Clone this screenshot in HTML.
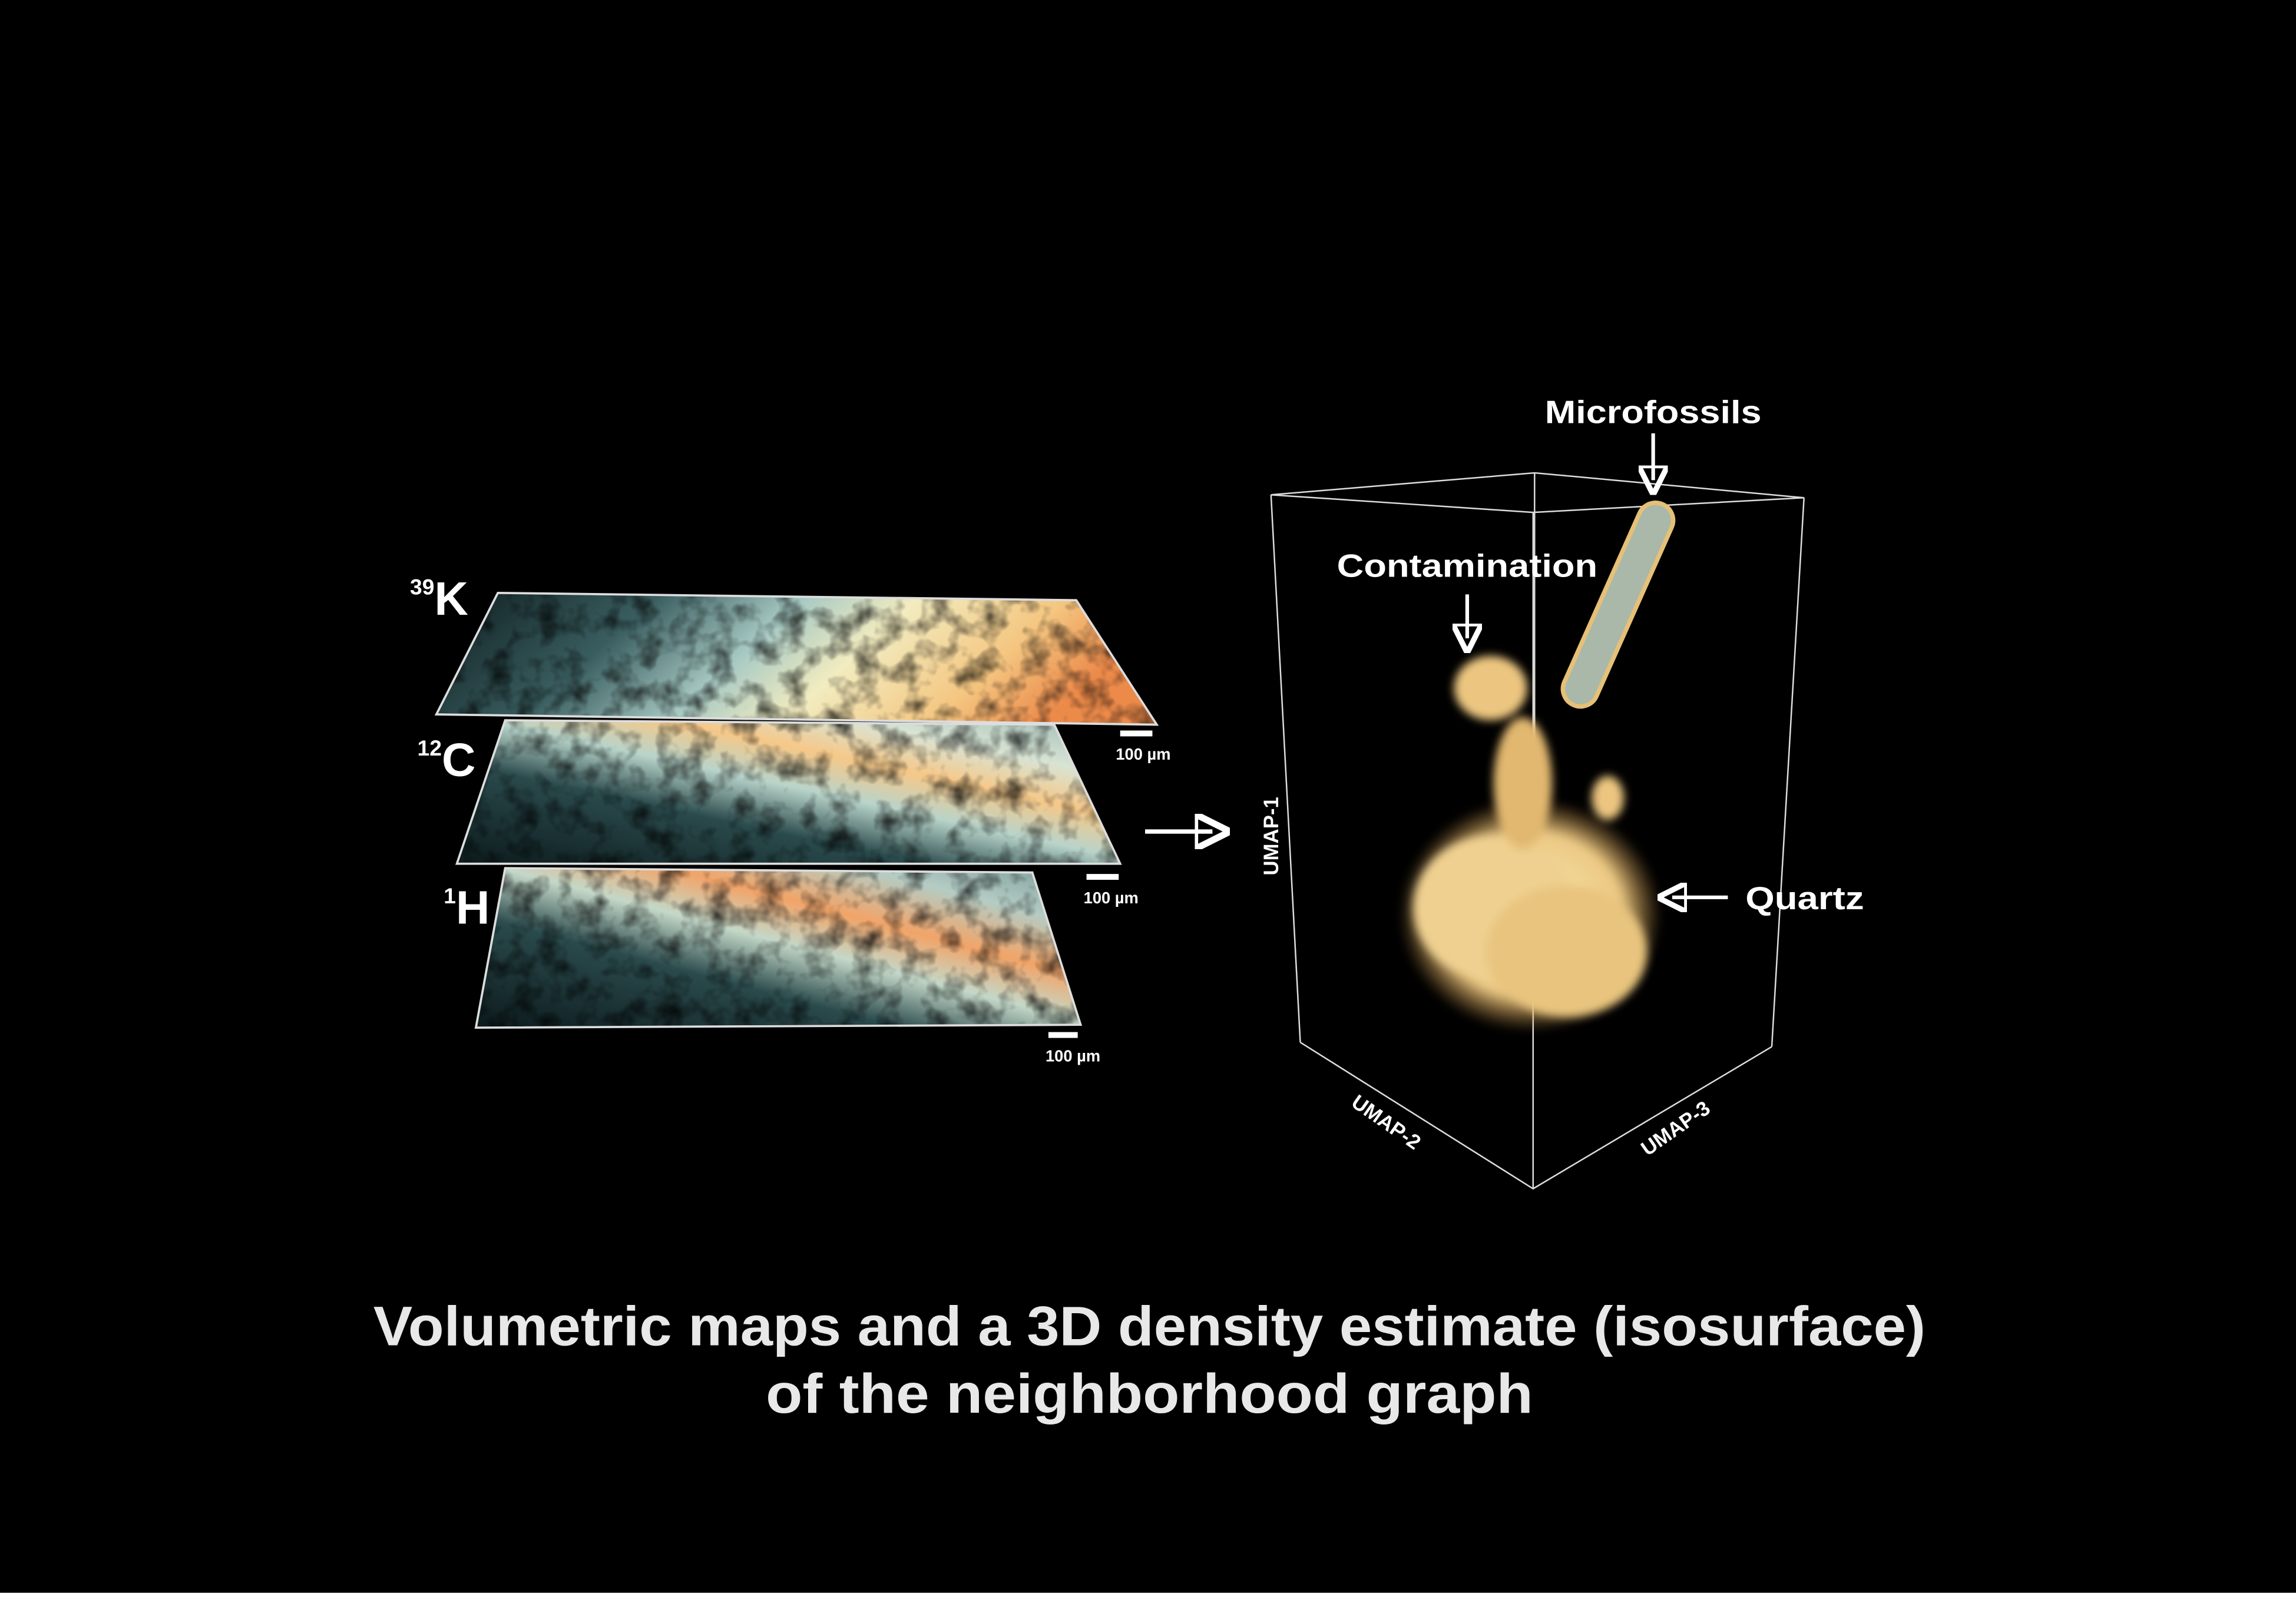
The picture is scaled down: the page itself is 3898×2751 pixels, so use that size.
<!DOCTYPE html>
<html><head><meta charset="utf-8"><style>
html,body{margin:0;padding:0;background:#000;}
svg{display:block;}
text{font-family:"Liberation Sans","DejaVu Sans",sans-serif;}
</style></head><body>
<svg width="3898" height="2751" viewBox="0 0 1568 1106.6" preserveAspectRatio="none" xmlns="http://www.w3.org/2000/svg">
<defs>
<linearGradient id="gK" x1="0" y1="0" x2="1" y2="0.2">
<stop offset="0" stop-color="#0c1a1c"/><stop offset="0.3" stop-color="#3a5e60"/><stop offset="0.5" stop-color="#a8cac4"/><stop offset="0.65" stop-color="#f2ecc0"/><stop offset="0.85" stop-color="#f4c680"/><stop offset="1" stop-color="#ec8a4a"/></linearGradient>
<linearGradient id="gC" x1="0" y1="1" x2="1" y2="0">
<stop offset="0" stop-color="#0c1a1c"/><stop offset="0.35" stop-color="#2a4a4c"/><stop offset="0.52" stop-color="#b8d4ca"/><stop offset="0.66" stop-color="#f6c888"/><stop offset="0.8" stop-color="#d8e4d4"/><stop offset="1" stop-color="#9ab8b4"/></linearGradient>
<linearGradient id="gH" x1="0" y1="1" x2="1" y2="0">
<stop offset="0" stop-color="#0c1a1c"/><stop offset="0.35" stop-color="#2a4a4c"/><stop offset="0.52" stop-color="#c4d8c8"/><stop offset="0.66" stop-color="#f2a468"/><stop offset="0.82" stop-color="#b4ccc4"/><stop offset="1" stop-color="#7a9a98"/></linearGradient>
<filter id="noise" x="0" y="0" width="100%" height="100%">
<feTurbulence type="fractalNoise" baseFrequency="0.06" numOctaves="3" seed="4"/>
<feColorMatrix type="matrix" values="0 0 0 0 0  0 0 0 0 0  0 0 0 0 0  0 0 0 -1.6 0.9"/>
</filter>
<radialGradient id="blob" cx="0.5" cy="0.5" r="0.5">
<stop offset="0" stop-color="#fbe8b0"/><stop offset="0.7" stop-color="#ecc984"/><stop offset="1" stop-color="#c08a40" stop-opacity="0"/></radialGradient>
<filter id="blur"><feGaussianBlur stdDeviation="3"/></filter>
<clipPath id="cK"><polygon points="340,405 735,410 790,495 298,488"/></clipPath>
<clipPath id="cC"><polygon points="345,492 720,495 765,590 312,590"/></clipPath>
<clipPath id="cH"><polygon points="345,593 705,596 738,700 325,702"/></clipPath>
<marker id="ah" markerWidth="8" markerHeight="8" refX="4" refY="4" orient="auto"><path d="M0,0 L8,4 L0,8 Z" fill="none" stroke="#fff" stroke-width="1.5"/></marker>
</defs>
<rect width="1568" height="1088" fill="#000"/>
<rect y="1088" width="1568" height="20" fill="#fff"/>

<g>
<polygon points="340,405 735,410 790,495 298,488" fill="url(#gK)"/>
<rect x="290" y="400" width="510" height="100" clip-path="url(#cK)" filter="url(#noise)"/>
<polygon points="340,405 735,410 790,495 298,488" fill="none" stroke="#ddd" stroke-width="1.5"/>
</g>
<g>
<polygon points="345,492 720,495 765,590 312,590" fill="url(#gC)"/>
<rect x="300" y="488" width="470" height="105" clip-path="url(#cC)" filter="url(#noise)"/>
<polygon points="345,492 720,495 765,590 312,590" fill="none" stroke="#ddd" stroke-width="1.5"/>
</g>
<g>
<polygon points="345,593 705,596 738,700 325,702" fill="url(#gH)"/>
<rect x="320" y="590" width="420" height="115" clip-path="url(#cH)" filter="url(#noise)"/>
<polygon points="345,593 705,596 738,700 325,702" fill="none" stroke="#ddd" stroke-width="1.5"/>
</g>

<g fill="#fff" font-weight="bold">
<text x="280" y="420" font-size="32"><tspan font-size="15" dy="-14">39</tspan><tspan dy="14">K</tspan></text>
<text x="285" y="530" font-size="32"><tspan font-size="15" dy="-14">12</tspan><tspan dy="14">C</tspan></text>
<text x="303" y="631" font-size="32"><tspan font-size="15" dy="-14">1</tspan><tspan dy="14">H</tspan></text>
</g>
<g fill="#fff" font-size="11" font-weight="bold">
<rect x="765" y="499" width="22" height="4"/><text x="762" y="519">100 µm</text>
<rect x="742" y="597" width="22" height="4"/><text x="740" y="617">100 µm</text>
<rect x="716" y="705" width="20" height="4"/><text x="714" y="725">100 µm</text>
</g>
<line x1="782" y1="568" x2="828" y2="568" stroke="#fff" stroke-width="3" marker-end="url(#ah)"/>

<g stroke="#ddd" stroke-width="1" fill="none">
<polyline points="868,338 1048,323 1232,340"/>
<line x1="868" y1="338" x2="888" y2="712"/>
<line x1="1232" y1="340" x2="1210" y2="715"/>
<line x1="1048" y1="323" x2="1048" y2="628"/>
<polyline points="888,712 1047,812 1210,715"/>
<line x1="1047" y1="812" x2="1047" y2="350"/>
<line x1="868" y1="338" x2="1047" y2="350"/>
<line x1="1232" y1="340" x2="1047" y2="350"/>
</g>
<g filter="url(#blur)">
<ellipse cx="1045" cy="625" rx="90" ry="80" fill="url(#blob)"/>
<ellipse cx="1020" cy="620" rx="55" ry="50" fill="#efd090"/>
<ellipse cx="1070" cy="650" rx="55" ry="45" fill="#e8c47e"/>
<ellipse cx="1040" cy="535" rx="20" ry="45" fill="#e2b870"/>
<ellipse cx="1018" cy="470" rx="25" ry="22" fill="#ecc680"/>
<ellipse cx="1098" cy="545" rx="11" ry="15" fill="#ecc680"/>
</g>
<g>
<rect x="1093" y="338" width="24" height="150" rx="12" fill="#a9b8a8" stroke="#e6c078" stroke-width="3" transform="rotate(24 1105 413)"/>
</g>
<g stroke="#fff" stroke-width="2.5">
<line x1="1129" y1="296" x2="1129" y2="328" marker-end="url(#ah)"/>
<line x1="1002" y1="406" x2="1002" y2="436" marker-end="url(#ah)"/>
<line x1="1180" y1="613" x2="1142" y2="613" marker-end="url(#ah)"/>
</g>
<g fill="#fff" font-weight="bold" font-size="22">
<text x="1055" y="289" textLength="148" lengthAdjust="spacingAndGlyphs">Microfossils</text>
<text x="913" y="394" textLength="178" lengthAdjust="spacingAndGlyphs">Contamination</text>
<text x="1192" y="621" textLength="81" lengthAdjust="spacingAndGlyphs">Quartz</text>
</g>
<g fill="#fff" font-weight="bold" font-size="14">
<text x="873" y="598" transform="rotate(-90 873 598)">UMAP-1</text>
<text x="922" y="755" transform="rotate(35 922 755)">UMAP-2</text>
<text x="1125" y="790" transform="rotate(-35 1125 790)">UMAP-3</text>
</g>
<g fill="#e8e8e8" font-weight="bold" font-size="38" text-anchor="middle">
<text x="785" y="919" textLength="1060" lengthAdjust="spacingAndGlyphs">Volumetric maps and a 3D density estimate (isosurface)</text>
<text x="785" y="965" textLength="524" lengthAdjust="spacingAndGlyphs">of the neighborhood graph</text>
</g>
</svg>
</body></html>
